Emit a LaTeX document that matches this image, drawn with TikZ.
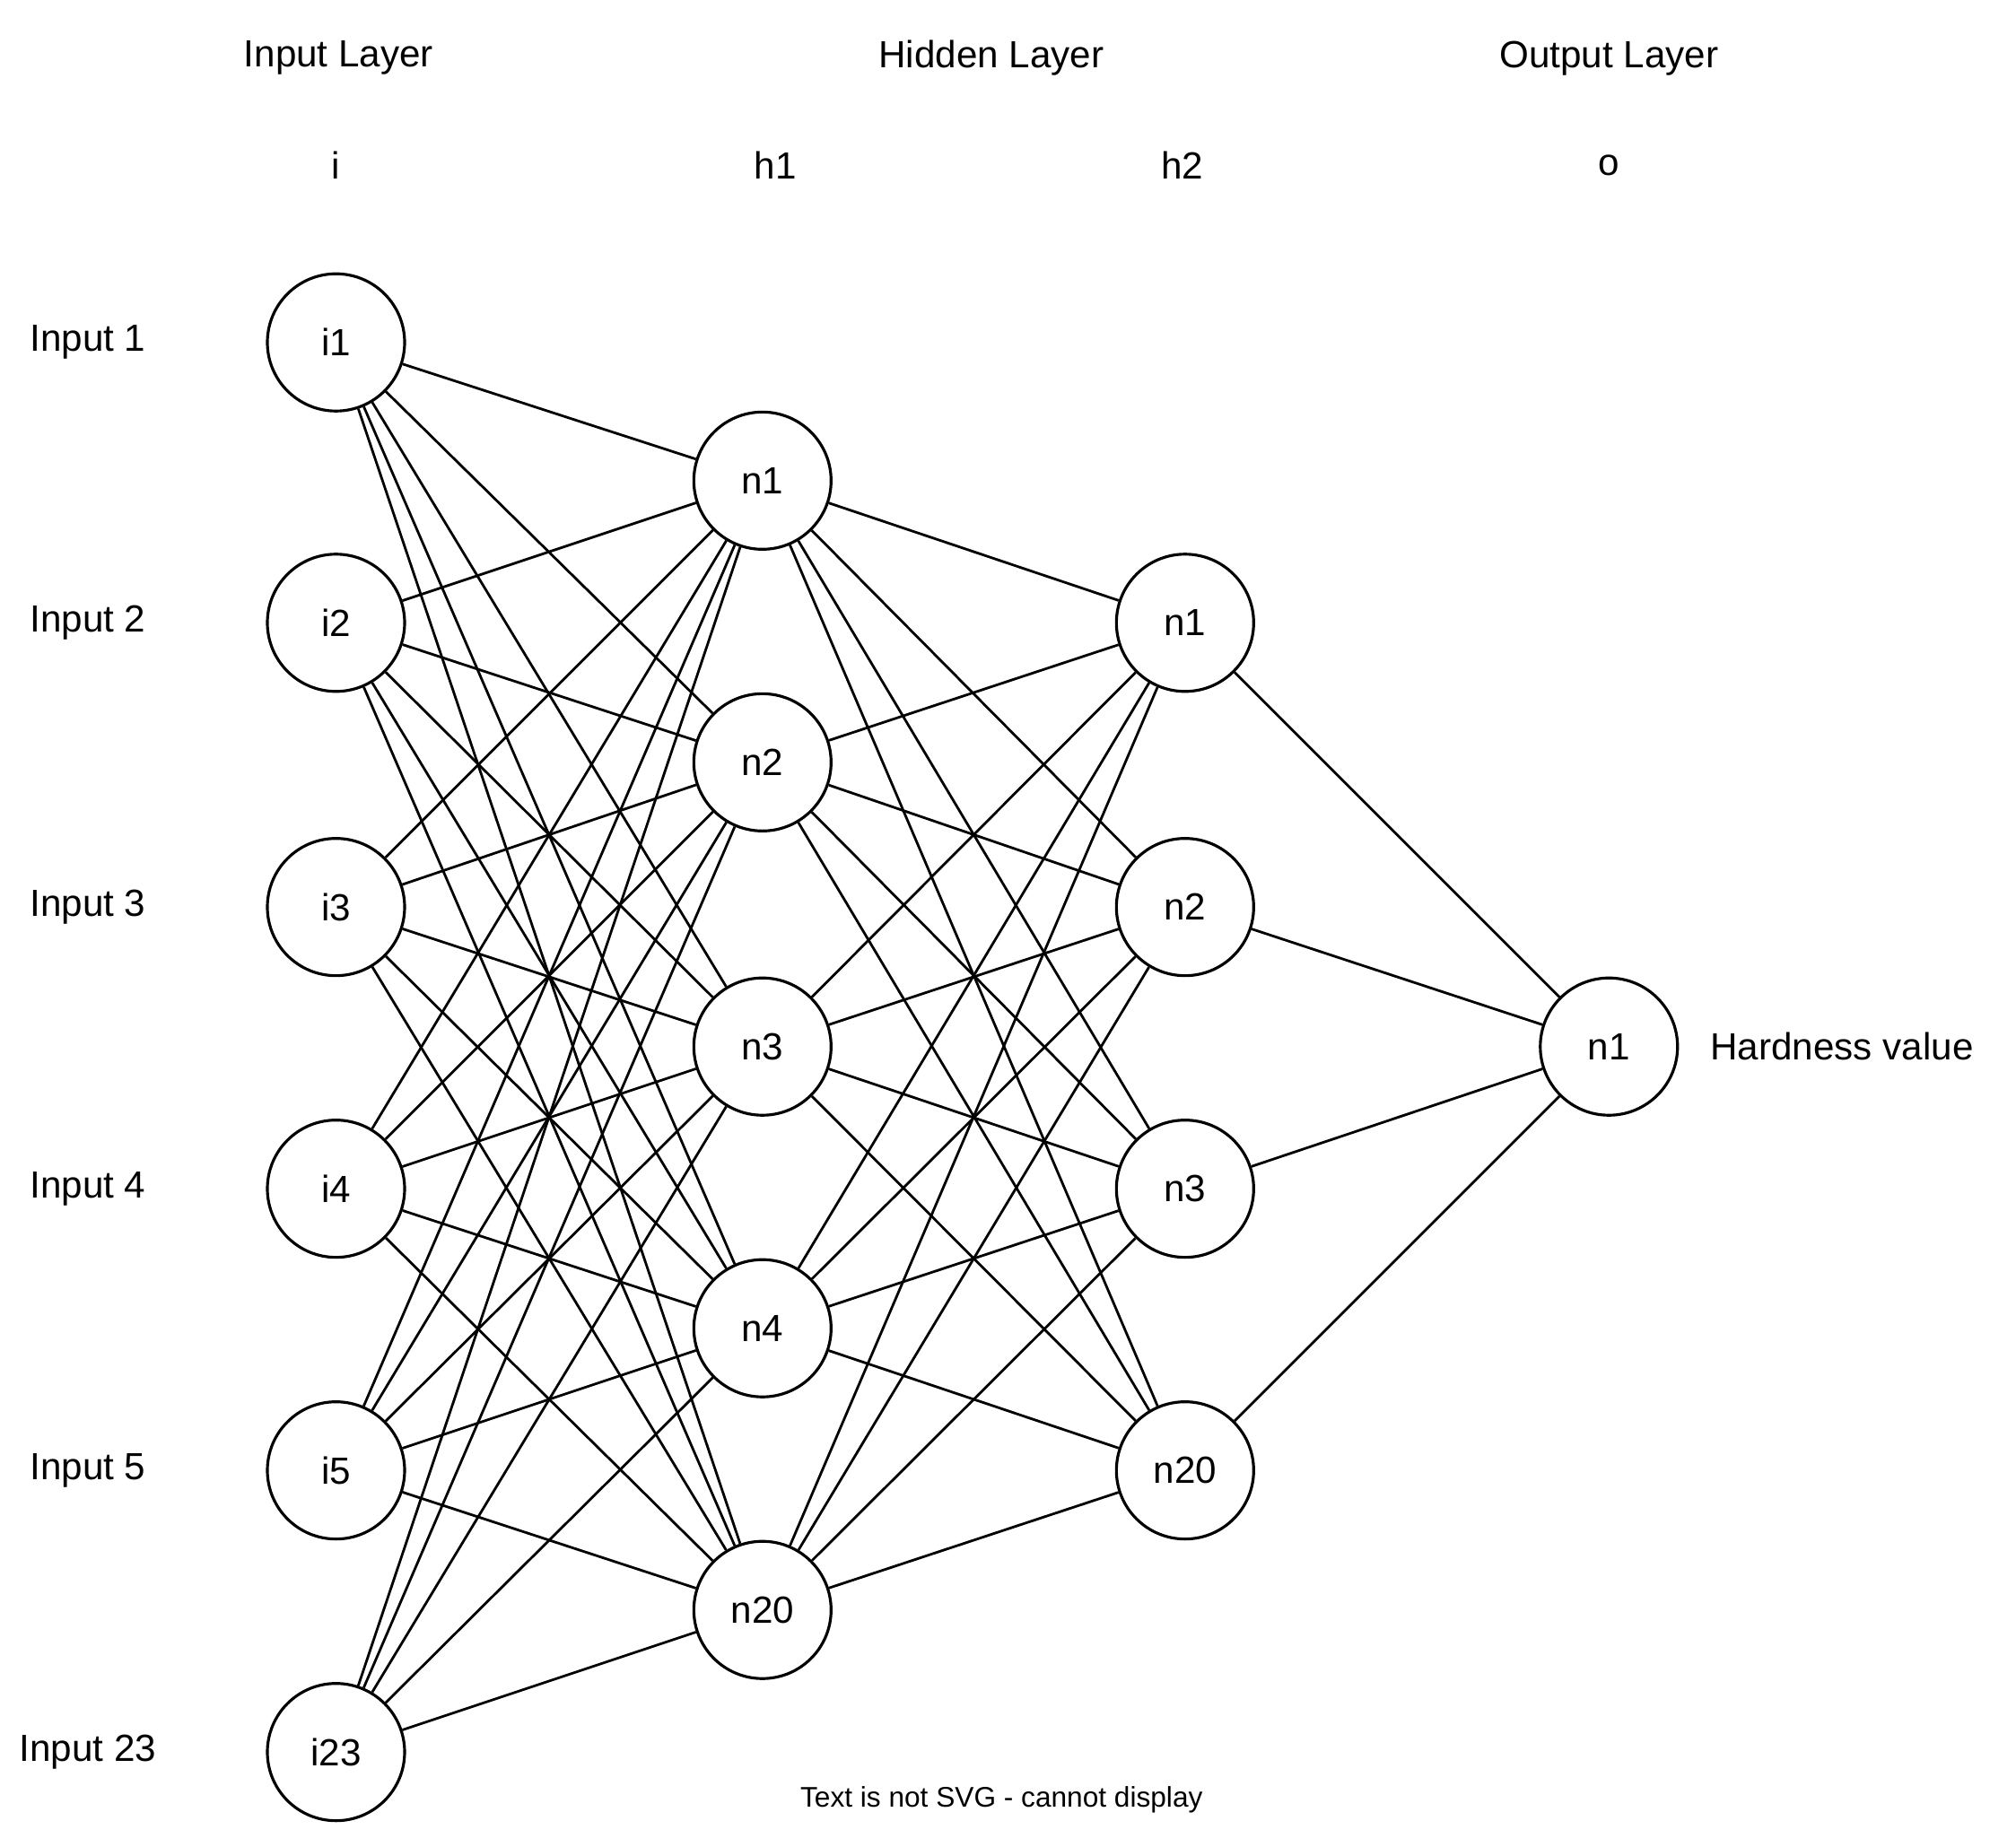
\documentclass[tikz,border=0pt]{standalone}
\usepackage{fontspec}
\setmainfont{Liberation Sans}
\begin{document}
\begin{tikzpicture}[x=0.0144cm,y=-0.0144cm,
  neuron/.style={circle,draw,line width=0.9pt,minimum size=1.53cm,inner sep=0pt,font=\fontsize{12}{14}\selectfont},
  lbl/.style={font=\fontsize{12}{14}\selectfont},
  conn/.style={line width=0.8pt}]
\useasboundingbox (0,0) rectangle (1560,1429);
\node[lbl] (tin) at (262,45) {Input Layer};
\node[lbl] (thid) at (767,45) {Hidden Layer};
\node[lbl] (tout) at (1245,45) {Output Layer};
\node[lbl] (ti) at (260,128) {i};
\node[lbl] (th1) at (600,128) {h1};
\node[lbl] (th2) at (915,128) {h2};
\node[lbl] (to) at (1245,128) {o};
\foreach \n/\y/\t in {1/265/Input 1,2/482/Input 2,3/702/Input 3,4/920/Input 4,5/1138/Input 5,23/1356/Input 23}{
  \node[lbl] (L\n) at (68,\y) {\t};
  \node[neuron] (i\n) at (260,\y) {i\n};
}
\foreach \n/\y in {1/372,2/590,3/810,4/1028,20/1246}{
  \node[neuron] (a\n) at (590,\y) {n\n};
}
\foreach \n/\y in {1/482,2/702,3/920,20/1138}{
  \node[neuron] (b\n) at (917,\y) {n\n};
}
\node[neuron] (o1) at (1245,810) {n1};
\node[lbl,anchor=west] (hv) at (1315,810) {Hardness value};
\node[font=\fontsize{9}{11}\selectfont] (svg) at (775,1393) {Text is not SVG - cannot display};
\foreach \s in {1,2,3,4,5,23}{\foreach \t in {1,2,3,4,20}{\draw[conn] (i\s) -- (a\t);}}
\foreach \s in {1,2,3,4,20}{\foreach \t in {1,2,3,20}{\draw[conn] (a\s) -- (b\t);}}
\foreach \s in {1,2,3,20}{\draw[conn] (b\s) -- (o1);}
\end{tikzpicture}
\end{document}
